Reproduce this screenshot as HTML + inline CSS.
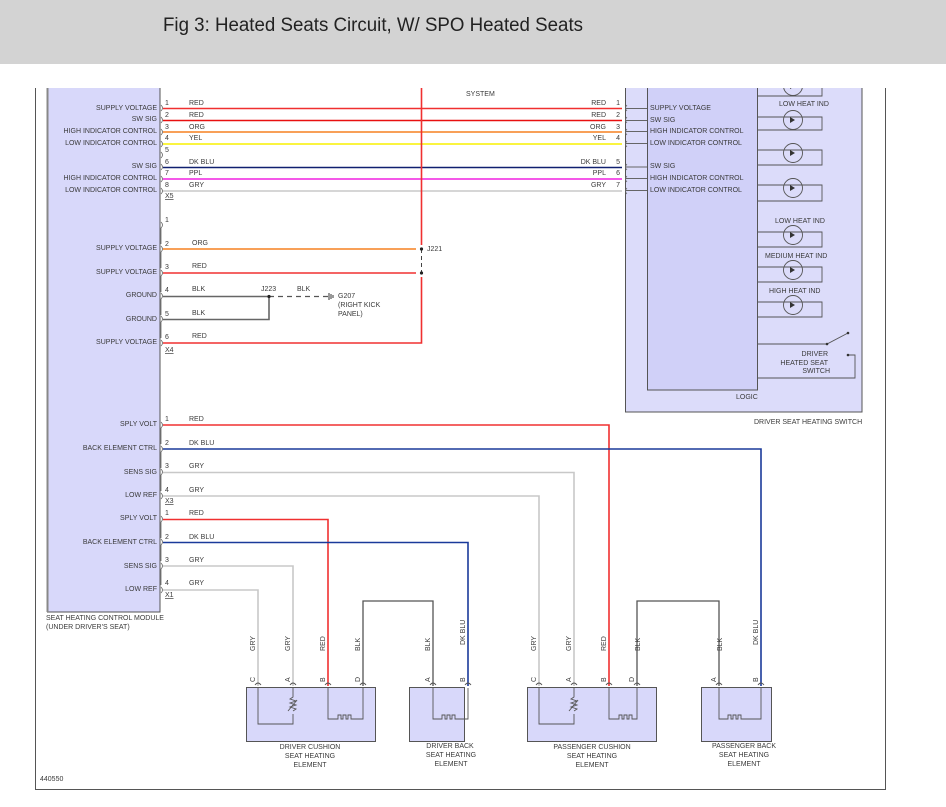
<!DOCTYPE html>
<html><head><meta charset="utf-8"><style>
html,body{margin:0;padding:0;background:#fff;width:946px;height:807px;overflow:hidden}
svg{display:block}
text{font-family:"Liberation Sans",sans-serif;fill:#3a3a3a;font-size:7px}
</style></head><body>
<svg width="946" height="807" viewBox="0 0 946 807" xmlns="http://www.w3.org/2000/svg">
<defs><clipPath id="c"><rect x="0" y="88" width="946" height="719"/></clipPath></defs>
<rect x="0" y="0" width="946" height="64" fill="#d3d3d3"/>
<text x="163" y="31" style="font-size:19px;fill:#222" textLength="420" lengthAdjust="spacingAndGlyphs">Fig 3: Heated Seats Circuit, W/ SPO Heated Seats</text>

<g clip-path="url(#c)">
<!-- frame -->
<line x1="35.5" y1="88" x2="35.5" y2="789" stroke="#555" stroke-width="1"/>
<line x1="35" y1="789.5" x2="886" y2="789.5" stroke="#555" stroke-width="1"/>
<line x1="885.5" y1="88" x2="885.5" y2="789" stroke="#555" stroke-width="1"/>

<!-- module -->
<rect x="47.5" y="80" width="112.5" height="532" fill="#d8d8fa" stroke="#555" stroke-width="1"/>
<line x1="47.5" y1="80" x2="47.5" y2="612" stroke="#888" stroke-width="2"/>
<text x="46" y="620">SEAT HEATING CONTROL MODULE</text>
<text x="46" y="629">(UNDER DRIVER'S SEAT)</text>

<g text-anchor="end">
<text x="157" y="110">SUPPLY VOLTAGE</text>
<text x="157" y="121">SW SIG</text>
<text x="157" y="133">HIGH INDICATOR CONTROL</text>
<text x="157" y="145">LOW INDICATOR CONTROL</text>
<text x="157" y="168">SW SIG</text>
<text x="157" y="180">HIGH INDICATOR CONTROL</text>
<text x="157" y="192">LOW INDICATOR CONTROL</text>
<text x="157" y="250">SUPPLY VOLTAGE</text>
<text x="157" y="274">SUPPLY VOLTAGE</text>
<text x="157" y="297">GROUND</text>
<text x="157" y="321">GROUND</text>
<text x="157" y="344">SUPPLY VOLTAGE</text>
<text x="157" y="426">SPLY VOLT</text>
<text x="157" y="450">BACK ELEMENT CTRL</text>
<text x="157" y="474">SENS SIG</text>
<text x="157" y="497">LOW REF</text>
<text x="157" y="520">SPLY VOLT</text>
<text x="157" y="544">BACK ELEMENT CTRL</text>
<text x="157" y="568">SENS SIG</text>
<text x="157" y="591">LOW REF</text>
</g>

<g style="font-size:6.5px">
<text x="165" y="105">1</text><text x="165" y="117">2</text><text x="165" y="129">3</text><text x="165" y="140">4</text><text x="165" y="152">5</text>
<text x="165" y="164">6</text><text x="165" y="175">7</text><text x="165" y="187">8</text>
<text x="165" y="198" text-decoration="underline">X5</text>
<text x="165" y="222">1</text><text x="165" y="246">2</text><text x="165" y="269">3</text><text x="165" y="292">4</text><text x="165" y="316">5</text><text x="165" y="339">6</text>
<text x="165" y="352" text-decoration="underline">X4</text>
<text x="165" y="421">1</text><text x="165" y="445">2</text><text x="165" y="468">3</text><text x="165" y="492">4</text>
<text x="165" y="503" text-decoration="underline">X3</text>
<text x="165" y="515">1</text><text x="165" y="539">2</text><text x="165" y="562">3</text><text x="165" y="585">4</text>
<text x="165" y="597" text-decoration="underline">X1</text>
</g>
<g fill="none" stroke="#666" stroke-width="0.8">
<path d="M161,105 q3,3 0,6 M161,117 q3,3 0,6 M161,129 q3,3 0,6 M161,141 q3,3 0,6 M161,152 q3,3 0,6 M161,164 q3,3 0,6 M161,176 q3,3 0,6 M161,188 q3,3 0,6"/>
<path d="M161,222 q3,3 0,6 l0,16 M161,246 q3,3 0,6 l0,16 M161,270 q3,3 0,6 l0,16 M161,293 q3,3 0,6 l0,16 M161,316 q3,3 0,6 l0,16 M161,340 q3,3 0,6"/>
<path d="M161,422 q3,3 0,6 l0,16 M161,446 q3,3 0,6 l0,16 M161,469 q3,3 0,6 l0,16 M161,493 q3,3 0,6 M161,516 q3,3 0,6 l0,16 M161,539 q3,3 0,6 l0,16 M161,563 q3,3 0,6 l0,16 M161,587 q3,3 0,6"/>
</g>

<g>
<text x="189" y="105">RED</text><text x="189" y="117">RED</text><text x="189" y="129">ORG</text><text x="189" y="140">YEL</text>
<text x="189" y="164">DK BLU</text><text x="189" y="175">PPL</text><text x="189" y="187">GRY</text>
<text x="192" y="245">ORG</text><text x="192" y="268">RED</text><text x="192" y="291">BLK</text><text x="192" y="315">BLK</text><text x="192" y="338">RED</text>
<text x="189" y="421">RED</text><text x="189" y="445">DK BLU</text><text x="189" y="468">GRY</text><text x="189" y="492">GRY</text>
<text x="189" y="515">RED</text><text x="189" y="539">DK BLU</text><text x="189" y="562">GRY</text><text x="189" y="585">GRY</text>
<text x="466" y="96">SYSTEM</text>
<text x="261" y="291">J223</text><text x="297" y="291">BLK</text>
<text x="427" y="251">J221</text>
<text x="338" y="298">G207</text><text x="338" y="307">(RIGHT KICK</text><text x="338" y="316">PANEL)</text>
</g>

<g stroke-width="1.6" fill="none">
<line x1="163" y1="108.5" x2="622" y2="108.5" stroke="#f03030"/>
<line x1="163" y1="120.5" x2="622" y2="120.5" stroke="#e81010"/>
<line x1="163" y1="132" x2="622" y2="132" stroke="#f58020"/>
<line x1="163" y1="144" x2="622" y2="144" stroke="#f8f000"/>
<line x1="163" y1="167.5" x2="622" y2="167.5" stroke="#102070"/>
<line x1="163" y1="179" x2="622" y2="179" stroke="#f020e0"/>
<line x1="163" y1="191" x2="622" y2="191" stroke="#c8c8c8"/>
<line x1="421.5" y1="80" x2="421.5" y2="245" stroke="#f03030"/>
<line x1="421.5" y1="249" x2="421.5" y2="273" stroke="#444" stroke-width="1" stroke-dasharray="4,3"/>
<polyline points="421.5,277 421.5,343 163,343" stroke="#f03030"/>
<line x1="163" y1="249" x2="416" y2="249" stroke="#f58020"/>
<line x1="163" y1="273" x2="416" y2="273" stroke="#f03030"/>
<line x1="163" y1="296.5" x2="269" y2="296.5" stroke="#666"/>
<polyline points="163,319.5 269,319.5 269,296.5" stroke="#666"/>
<line x1="269" y1="296.5" x2="328" y2="296.5" stroke="#555" stroke-width="1.2" stroke-dasharray="5,4"/>
<polyline points="163,425 609,425 609,686" stroke="#f03030"/>
<polyline points="163,449 761,449 761,686" stroke="#1a3a9a"/>
<polyline points="163,472.5 574,472.5 574,686" stroke="#c8c8c8"/>
<polyline points="163,496 539,496 539,686" stroke="#c8c8c8"/>
<polyline points="163,519.5 328,519.5 328,686" stroke="#f03030"/>
<polyline points="163,542.5 468,542.5 468,686" stroke="#1a3a9a"/>
<polyline points="163,566 293,566 293,686" stroke="#c8c8c8"/>
<polyline points="163,590 258,590 258,686" stroke="#c8c8c8"/>
<polyline points="363,686 363,601 433,601 433,686" stroke="#555" stroke-width="1.3"/>
<polyline points="637,686 637,601 719,601 719,686" stroke="#555" stroke-width="1.3"/>
</g>
<circle cx="421.5" cy="249" r="1.6" fill="#222"/><circle cx="421.5" cy="273" r="1.6" fill="#222"/>
<circle cx="269" cy="296.5" r="1.6" fill="#222"/>
<g stroke="#333" stroke-width="1"><line x1="329" y1="293" x2="329" y2="300"/><line x1="331" y1="294" x2="331" y2="299"/><line x1="333" y1="295" x2="333" y2="298"/></g>

<!-- switch -->
<rect x="625.5" y="80" width="236.5" height="332" fill="#dcdcfa" stroke="#555" stroke-width="1"/>
<rect x="647.5" y="80" width="110" height="310" fill="#d0d0f8" stroke="#555" stroke-width="1"/>
<text x="736" y="399">LOGIC</text>
<text x="754" y="424">DRIVER SEAT HEATING SWITCH</text>
<g text-anchor="end">
<text x="606" y="105">RED</text><text x="606" y="117">RED</text><text x="606" y="129">ORG</text><text x="606" y="140">YEL</text>
<text x="606" y="164">DK BLU</text><text x="606" y="175">PPL</text><text x="606" y="187">GRY</text>
<text x="620" y="105">1</text><text x="620" y="117">2</text><text x="620" y="129">3</text><text x="620" y="140">4</text>
<text x="620" y="164">5</text><text x="620" y="175">6</text><text x="620" y="187">7</text>
</g>
<g fill="none" stroke="#666" stroke-width="0.8">
<path d="M627,105 q-3,3 0,6 M627,117 q-3,3 0,6 M627,129 q-3,3 0,6 M627,141 q-3,3 0,6 M627,164 q-3,3 0,6 M627,176 q-3,3 0,6 M627,188 q-3,3 0,6"/>
</g>
<g stroke="#666" stroke-width="0.9">
<line x1="626" y1="108.5" x2="647" y2="108.5"/><line x1="626" y1="120.5" x2="647" y2="120.5"/><line x1="626" y1="131.5" x2="647" y2="131.5"/><line x1="626" y1="143.5" x2="647" y2="143.5"/>
<line x1="626" y1="167" x2="647" y2="167"/><line x1="626" y1="178.5" x2="647" y2="178.5"/><line x1="626" y1="190.5" x2="647" y2="190.5"/>
</g>
<g>
<text x="650" y="110">SUPPLY VOLTAGE</text><text x="650" y="122">SW SIG</text><text x="650" y="133">HIGH INDICATOR CONTROL</text><text x="650" y="145">LOW INDICATOR CONTROL</text>
<text x="650" y="168">SW SIG</text><text x="650" y="180">HIGH INDICATOR CONTROL</text><text x="650" y="192">LOW INDICATOR CONTROL</text>
<text x="779" y="106">LOW HEAT IND</text>
<text x="775" y="223">LOW HEAT IND</text>
<text x="765" y="258">MEDIUM HEAT IND</text>
<text x="769" y="293">HIGH HEAT IND</text>
</g>
<g fill="none" stroke="#555" stroke-width="0.9">
<path d="M757,96 H822 V80 M757,82 H822"/>
<circle cx="793" cy="86" r="9.5"/>
<path d="M757,117 H822 V130 H757"/><circle cx="793" cy="120" r="9.5"/>
<path d="M757,150 H822 V165 H757"/><circle cx="793" cy="153" r="9.5"/>
<path d="M757,185 H822 V201 H757"/><circle cx="793" cy="188" r="9.5"/>
<path d="M757,232 H822 V247 H757"/><circle cx="793" cy="235" r="9.5"/>
<path d="M757,267 H822 V282 H757"/><circle cx="793" cy="270" r="9.5"/>
<path d="M757,302 H822 V317 H757"/><circle cx="793" cy="305" r="9.5"/>
<path d="M757,344 H827 L848,333"/>
<path d="M848,355 H855 V378 H757"/>
</g>
<g fill="#333">
<path d="M790,83 l5,3 l-5,3z M790,117 l5,3 l-5,3z M790,150 l5,3 l-5,3z M790,185 l5,3 l-5,3z M790,232 l5,3 l-5,3z M790,267 l5,3 l-5,3z M790,302 l5,3 l-5,3z"/>
<circle cx="827" cy="344" r="1.3"/><circle cx="848" cy="333" r="1.3"/><circle cx="848" cy="355" r="1.3"/>
</g>
<g text-anchor="end"><text x="828" y="356">DRIVER</text><text x="828" y="365">HEATED SEAT</text><text x="830" y="373">SWITCH</text></g>

<!-- elements -->
<g fill="#d8d8fa" stroke="#555" stroke-width="1">
<rect x="246.5" y="687.5" width="129" height="54"/>
<rect x="409.5" y="687.5" width="55" height="54"/>
<rect x="527.5" y="687.5" width="129" height="54"/>
<rect x="701.5" y="687.5" width="70" height="54"/>
</g>
<g fill="none" stroke="#555" stroke-width="0.9">
<path d="M258,688 V724 H293 V714 M293,688 V697 l-3,2 l6,2 l-6,2 l6,2 l-6,2 l6,2 l-3,2"/>
<path d="M288,711 l9,-11"/>
<path d="M328,688 V719 H338 v-4 h3 v4 h2 v-4 h3 v4 h2 v-4 h3 v4 H363 V688"/>
<path d="M433,688 V719 H442 v-4 h3 v4 h2 v-4 h3 v4 h2 v-4 h3 v4 H468 V688"/>
<path d="M539,688 V724 H574 V714 M574,688 V697 l-3,2 l6,2 l-6,2 l6,2 l-6,2 l6,2 l-3,2"/>
<path d="M569,711 l9,-11"/>
<path d="M609,688 V719 H619 v-4 h3 v4 h2 v-4 h3 v4 h2 v-4 h3 v4 H637 V688"/>
<path d="M719,688 V719 H728 v-4 h3 v4 h2 v-4 h3 v4 h2 v-4 h3 v4 H761 V688"/>
<path d="M255,685 q3,-4 6,0 M290,685 q3,-4 6,0 M325,685 q3,-4 6,0 M360,685 q3,-4 6,0 M430,685 q3,-4 6,0 M465,685 q3,-4 6,0 M536,685 q3,-4 6,0 M571,685 q3,-4 6,0 M606,685 q3,-4 6,0 M634,685 q3,-4 6,0 M716,685 q3,-4 6,0 M758,685 q3,-4 6,0"/>
</g>
<g style="font-size:6.5px">
<text transform="translate(255,682) rotate(-90)">C</text><text transform="translate(290,682) rotate(-90)">A</text>
<text transform="translate(325,682) rotate(-90)">B</text><text transform="translate(360,682) rotate(-90)">D</text>
<text transform="translate(430,682) rotate(-90)">A</text><text transform="translate(465,682) rotate(-90)">B</text>
<text transform="translate(536,682) rotate(-90)">C</text><text transform="translate(571,682) rotate(-90)">A</text>
<text transform="translate(606,682) rotate(-90)">B</text><text transform="translate(634,682) rotate(-90)">D</text>
<text transform="translate(716,682) rotate(-90)">A</text><text transform="translate(758,682) rotate(-90)">B</text>
<text transform="translate(255,651) rotate(-90)">GRY</text><text transform="translate(290,651) rotate(-90)">GRY</text>
<text transform="translate(325,651) rotate(-90)">RED</text><text transform="translate(360,651) rotate(-90)">BLK</text>
<text transform="translate(430,651) rotate(-90)">BLK</text><text transform="translate(465,645) rotate(-90)">DK BLU</text>
<text transform="translate(536,651) rotate(-90)">GRY</text><text transform="translate(571,651) rotate(-90)">GRY</text>
<text transform="translate(606,651) rotate(-90)">RED</text><text transform="translate(640,651) rotate(-90)">BLK</text>
<text transform="translate(722,651) rotate(-90)">BLK</text><text transform="translate(758,645) rotate(-90)">DK BLU</text>
</g>
<g text-anchor="middle">
<text x="310" y="749">DRIVER CUSHION</text><text x="310" y="758">SEAT HEATING</text><text x="310" y="767">ELEMENT</text>
<text x="450" y="748">DRIVER BACK</text><text x="451" y="757">SEAT HEATING</text><text x="451" y="766">ELEMENT</text>
<text x="592" y="749">PASSENGER CUSHION</text><text x="592" y="758">SEAT HEATING</text><text x="592" y="767">ELEMENT</text>
<text x="744" y="748">PASSENGER BACK</text><text x="744" y="757">SEAT HEATING</text><text x="744" y="766">ELEMENT</text>
</g>
<text x="40" y="781">440550</text>
</g>
</svg>
</body></html>
